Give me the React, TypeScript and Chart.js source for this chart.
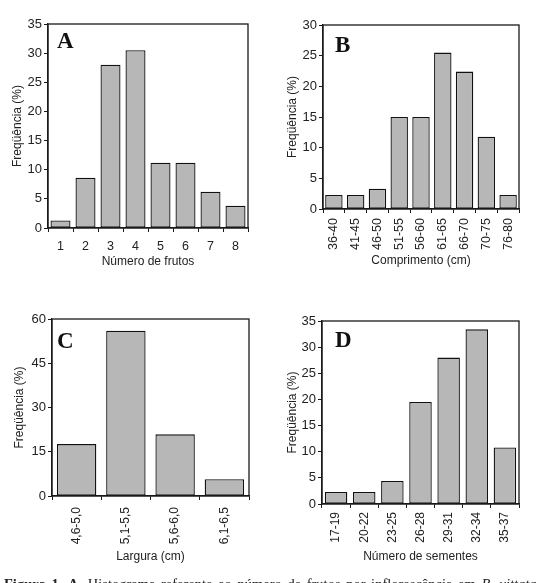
import React, { useEffect, useRef } from "react";
import { Chart, registerables } from "chart.js";

Chart.register(...registerables);

// ---- Data ----
const labelsA = ["1", "2", "3", "4", "5", "6", "7", "8"];
const valuesA = [1.3, 8.6, 28, 30.5, 11.2, 11.2, 6.2, 3.8];

const labelsB = ["36-40", "41-45", "46-50", "51-55", "56-60", "61-65", "66-70", "70-75", "76-80"];
const valuesB = [2.3, 2.3, 3.3, 15, 15, 25.5, 22.4, 11.8, 2.3];

const labelsC = ["4,6-5,0", "5,1-5,5", "5,6-6,0", "6,1-6,5"];
const valuesC = [17.6, 56, 20.9, 5.7];

const labelsD = ["17-19", "20-22", "23-25", "26-28", "29-31", "32-34", "35-37"];
const valuesD = [2.3, 2.3, 4.4, 19.5, 28, 33.4, 10.8];

const yTitle = "Freqüência (%)";

interface PanelSpec {
  letter: string;
  labels: string[];
  values: number[];
  yMax: number;
  yStep: number;
  xTitle: string;
  rotate: boolean;
  xTickSize: number;
  // layout
  left: number;
  top: number;
  width: number;
  height: number;
  yAxisWidth: number;
  xAxisHeight: number;
  padTop: number;
  padRight: number;
  yTitlePad: number;
  xTitlePad: number;
  xTickPad: number;
  letterDx: number;
  letterDy: number;
}

const panels: PanelSpec[] = [
  {
    letter: "A", labels: labelsA, values: valuesA, yMax: 35, yStep: 5, xTitle: "Número de frutos", rotate: false, xTickSize: 12.5,
    left: 0, top: 0, width: 272, height: 290, yAxisWidth: 48, xAxisHeight: 62, padTop: 24, padRight: 24,
    yTitlePad: 10, xTitlePad: 20.8, xTickPad: 7, letterDx: 9, letterDy: 24,
  },
  {
    letter: "B", labels: labelsB, values: valuesB, yMax: 30, yStep: 5, xTitle: "Comprimento (cm)", rotate: true, xTickSize: 12.5,
    left: 272, top: 0, width: 272, height: 290, yAxisWidth: 51, xAxisHeight: 81, padTop: 25, padRight: 25,
    yTitlePad: 13, xTitlePad: 22, xTickPad: 5, letterDx: 12, letterDy: 27,
  },
  {
    letter: "C", labels: labelsC, values: valuesC, yMax: 60, yStep: 15, xTitle: "Largura (cm)", rotate: true, xTickSize: 12,
    left: 0, top: 290, width: 272, height: 293, yAxisWidth: 52, xAxisHeight: 87, padTop: 29, padRight: 23,
    yTitlePad: 12, xTitlePad: 19, xTickPad: 7, letterDx: 5, letterDy: 29,
  },
  {
    letter: "D", labels: labelsD, values: valuesD, yMax: 35, yStep: 5, xTitle: "Número de sementes", rotate: true, xTickSize: 12,
    left: 272, top: 290, width: 272, height: 293, yAxisWidth: 50, xAxisHeight: 79, padTop: 31, padRight: 25,
    yTitlePad: 13, xTitlePad: 19, xTickPad: 4, letterDx: 13, letterDy: 26,
  },
];

const FONT = "'Liberation Sans', Arial, Helvetica, sans-serif";
const AXIS_COLOR = "#1a1a1a";
const TEXT_COLOR = "#222";

function Panel({ spec }: { spec: PanelSpec }) {
  const ref = useRef<HTMLCanvasElement | null>(null);

  useEffect(() => {
    if (!ref.current) return;
    const framePlugin = {
      id: "frameAndLetter",
      afterDraw(chart: any) {
        const { ctx, chartArea } = chart;
        ctx.save();
        ctx.strokeStyle = AXIS_COLOR;
        ctx.lineWidth = 1.3;
        ctx.strokeRect(chartArea.left, chartArea.top, chartArea.right - chartArea.left, chartArea.bottom - chartArea.top);
        ctx.fillStyle = "#111";
        ctx.font = "bold 23px 'Liberation Serif', 'Times New Roman', serif";
        ctx.textAlign = "left";
        ctx.textBaseline = "alphabetic";
        ctx.fillText(spec.letter, chartArea.left + spec.letterDx, chartArea.top + spec.letterDy);
        ctx.restore();
      },
    };

    const chart = new Chart(ref.current, {
      type: "bar",
      data: {
        labels: spec.labels,
        datasets: [
          {
            data: spec.values,
            backgroundColor: "#b7b7b7",
            borderColor: "#111",
            borderWidth: 1.3,
            borderSkipped: false,
            barPercentage: 0.8,
            categoryPercentage: 1,
          },
        ],
      },
      options: {
        animation: false,
        responsive: false,
        maintainAspectRatio: false,
        devicePixelRatio: 1,
        layout: { padding: { top: spec.padTop, right: spec.padRight, left: 0, bottom: 0 } },
        plugins: { legend: { display: false }, tooltip: { enabled: false }, title: { display: false } },
        scales: {
          x: {
            offset: true,
            grid: {
              offset: true,
              display: true,
              drawOnChartArea: false,
              drawTicks: true,
              tickLength: 4,
              color: AXIS_COLOR,
              lineWidth: 1,
            },
            border: { display: true, color: AXIS_COLOR, width: 1.3 },
            ticks: {
              color: TEXT_COLOR,
              font: { family: FONT, size: spec.xTickSize },
              maxRotation: spec.rotate ? 90 : 0,
              minRotation: spec.rotate ? 90 : 0,
              padding: spec.xTickPad,
              autoSkip: false,
            },
            title: {
              display: true,
              text: spec.xTitle,
              color: TEXT_COLOR,
              font: { family: FONT, size: 12 },
              padding: { top: 0, bottom: spec.xTitlePad },
            },
            afterFit(scale: any) {
              scale.height = spec.xAxisHeight;
            },
          },
          y: {
            min: 0,
            max: spec.yMax,
            grid: {
              display: true,
              drawOnChartArea: false,
              drawTicks: true,
              tickLength: 4,
              color: AXIS_COLOR,
              lineWidth: 1,
            },
            border: { display: true, color: AXIS_COLOR, width: 1.3 },
            ticks: {
              stepSize: spec.yStep,
              color: TEXT_COLOR,
              font: { family: FONT, size: 13 },
              padding: 2,
            },
            title: {
              display: true,
              text: yTitle,
              color: TEXT_COLOR,
              font: { family: FONT, size: 12 },
              padding: { top: spec.yTitlePad, bottom: 0 },
            },
            afterFit(scale: any) {
              scale.width = spec.yAxisWidth;
            },
          },
        },
      },
      plugins: [framePlugin],
    } as any);
    return () => chart.destroy();
  }, [spec]);

  return (
    <div style={{ position: "absolute", left: spec.left, top: spec.top, width: spec.width, height: spec.height }}>
      <canvas ref={ref} width={spec.width} height={spec.height} style={{ display: "block", width: spec.width, height: spec.height }} />
    </div>
  );
}

export default function App() {
  useEffect(() => {
    document.body.style.margin = "0";
    document.body.style.background = "#fff";
  }, []);
  return (
    <div style={{ position: "relative", width: 544, height: 583, overflow: "hidden", background: "#fff" }}>
      {panels.map((p) => (
        <Panel key={p.letter} spec={p} />
      ))}
      <div
        style={{
          position: "absolute",
          left: 4,
          top: 575,
          whiteSpace: "nowrap",
          fontFamily: "'Liberation Serif', 'Times New Roman', serif",
          fontSize: 14.5,
          wordSpacing: "2px",
          color: "#222",
          lineHeight: "18px",
        }}
      >
        <b>Figura 1.</b> <b>A.</b> Histograma referente ao número de frutos por inflorescência em <i>B. vittata</i>
      </div>
    </div>
  );
}
